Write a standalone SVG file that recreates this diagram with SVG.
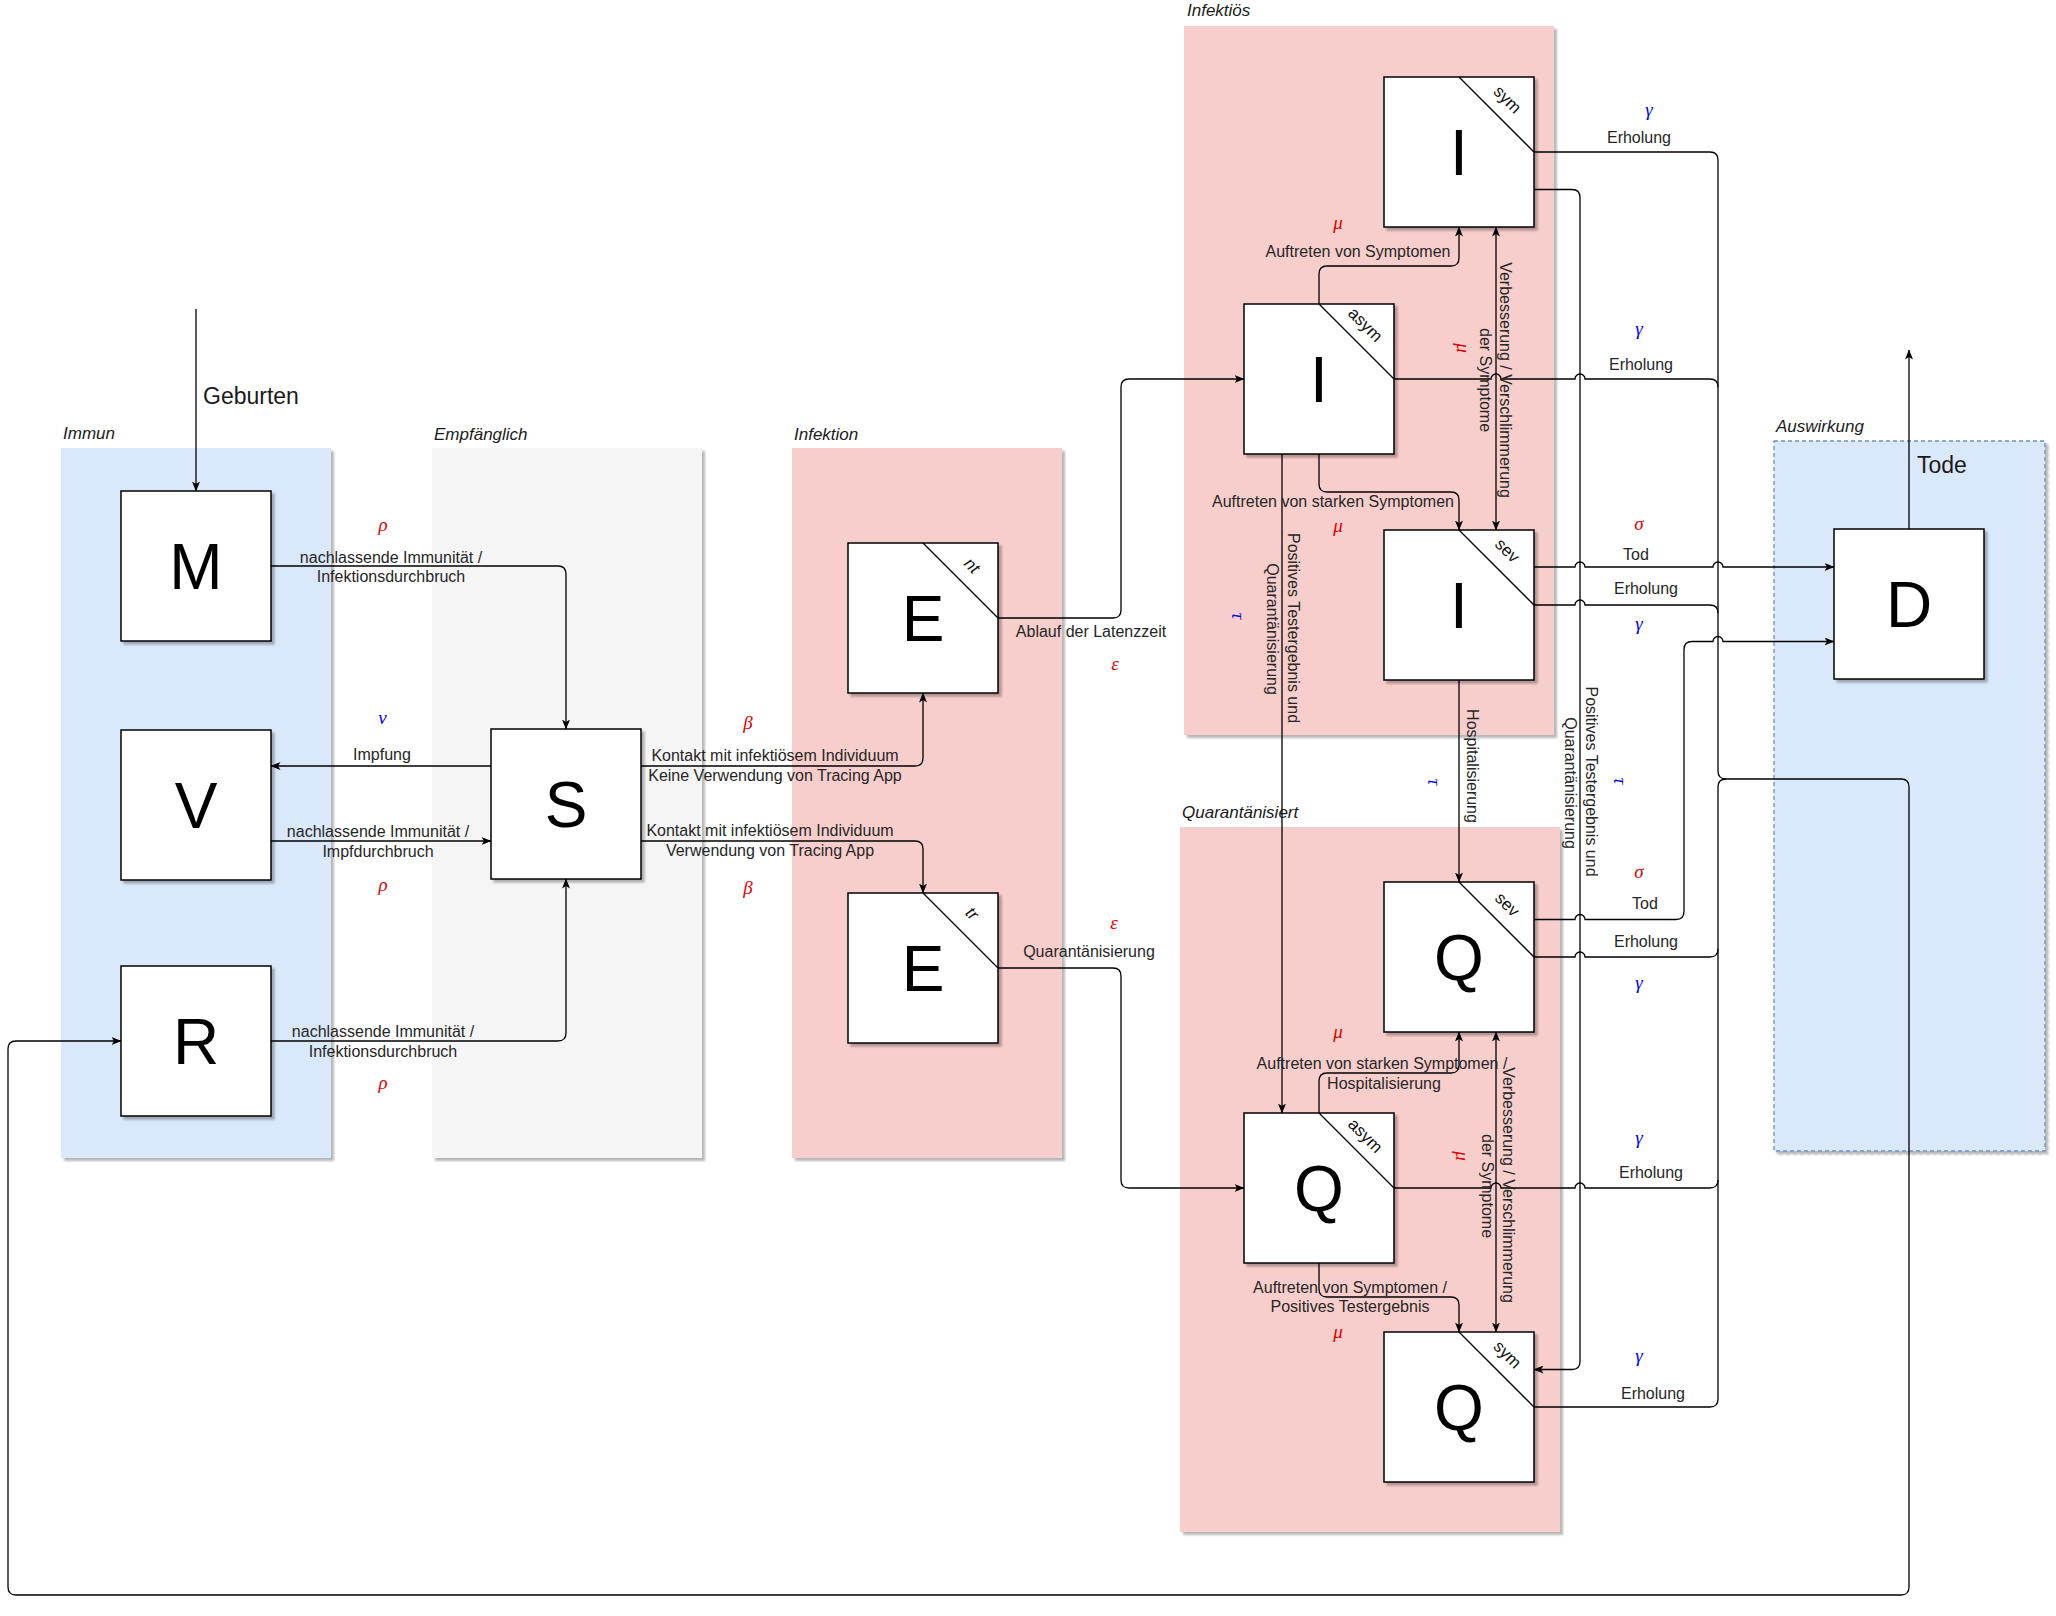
<svg xmlns="http://www.w3.org/2000/svg" width="2056" height="1616" viewBox="0 0 2056 1616">
<defs>
<filter id="sh" x="-5%" y="-5%" width="115%" height="115%">
<feDropShadow dx="3" dy="3" stdDeviation="1.2" flood-color="#000" flood-opacity="0.28"/>
</filter>
<marker id="arr" viewBox="0 0 10 8" refX="9.5" refY="4" markerWidth="10" markerHeight="8" markerUnits="userSpaceOnUse" orient="auto-start-reverse">
<path d="M0,0 L10,4 L0,8 L2.5,4 Z" fill="#000"/>
</marker>
</defs>
<style>
.bg{fill:#fff}
.cont{stroke:none;filter:url(#sh)}
.blue{fill:#dae8fc}
.gray{fill:#f5f5f5}
.red{fill:#f8cecc}
.ausw{fill:#dae8fc;stroke:#6c8ebf;stroke-width:1.3;stroke-dasharray:4 3}
.clab{font-family:"Liberation Sans",Arial,sans-serif;font-style:italic;font-size:17px;fill:#1a1a1a}
.box{fill:#fff;stroke:#000;stroke-width:1.5;filter:url(#sh)}
.diag{stroke:#000;stroke-width:1.3}
.big{font-family:"Liberation Sans",Arial,sans-serif;font-size:64px;fill:#000;text-anchor:middle}
.sub{font-family:"Liberation Sans",Arial,sans-serif;font-size:17px;fill:#111;text-anchor:middle}
.subi{font-family:"Liberation Sans",Arial,sans-serif;font-size:17px;font-style:italic;fill:#111;text-anchor:middle}
.e{fill:none;stroke:#000;stroke-width:1.3}
.ea{fill:none;stroke:#000;stroke-width:1.3;marker-end:url(#arr)}
.eb{fill:none;stroke:#000;stroke-width:1.3;marker-end:url(#arr);marker-start:url(#arr)}
.t{font-family:"Liberation Sans",Arial,sans-serif;font-size:16px;fill:#262626;text-anchor:middle}
.tl{font-family:"Liberation Sans",Arial,sans-serif;font-size:23px;fill:#1a1a1a}
.g{font-family:"Liberation Serif","Times New Roman",serif;font-style:italic;font-size:19px;text-anchor:middle}
.r{fill:#e00000}
.b{fill:#0000ee}
</style>
<rect class="bg" x="0" y="0" width="2056" height="1616"/>

<g id="containers">
<g id="c-immun"><rect class="cont blue" x="61" y="448" width="270" height="710"/><text class="clab" x="63" y="439">Immun</text></g>
<g id="c-empf"><rect class="cont gray" x="432" y="448" width="270" height="710"/><text class="clab" x="434" y="440">Empfänglich</text></g>
<g id="c-infektion"><rect class="cont red" x="792" y="448" width="270" height="710"/><text class="clab" x="794" y="440">Infektion</text></g>
<g id="c-infektioes"><rect class="cont red" x="1184" y="26" width="370" height="709"/><text class="clab" x="1187" y="16">Infektiös</text></g>
<g id="c-quar"><rect class="cont red" x="1180" y="827" width="380" height="705"/><text class="clab" x="1182" y="818">Quarantänisiert</text></g>
<g id="c-ausw"><rect class="ausw" x="1774" y="441" width="271" height="710" filter="url(#sh)"/><text class="clab" x="1776" y="432">Auswirkung</text></g>
</g>

<g id="connectors">
<path class="ea" d="M196,309 V491"/>
<path class="ea" d="M271,566 H558 Q566,566 566,574 V729"/>
<path class="ea" d="M491,766 H271"/>
<path class="ea" d="M271,841 H491"/>
<path class="ea" d="M271,1041 H558 Q566,1041 566,1033 V879"/>
<path class="ea" d="M641,766 H915 Q923,766 923,758 V693"/>
<path class="ea" d="M641,841 H915 Q923,841 923,849 V893"/>
<path class="ea" d="M998,618 H1113 Q1121,618 1121,610 V387 Q1121,379 1129,379 H1244"/>
<path class="ea" d="M998,968 H1113 Q1121,968 1121,976 V1180 Q1121,1188 1129,1188 H1244"/>
<path class="ea" d="M1319,304 V274 Q1319,266 1327,266 H1451 Q1459,266 1459,258 V227"/>
<path class="eb" d="M1496,227 V530"/>
<path class="ea" d="M1319,454 V484 Q1319,492 1327,492 H1451 Q1459,492 1459,500 V530"/>
<path class="ea" d="M1282,454 V1113"/>
<path class="ea" d="M1459,680 V882"/>
<path class="ea" d="M1534,189.5 H1572 Q1580,189.5 1580,197.5 V1361.5 Q1580,1369.5 1572,1369.5 H1534"/>
<path class="ea" d="M1534,152 H1710 Q1718,152 1718,160 V771 Q1718,779 1726,779 H1901 Q1909,779 1909,787 V1587 Q1909,1595 1901,1595 H16 Q8,1595 8,1587 V1049 Q8,1041 16,1041 H121"/>
<path class="e" d="M1394,379 H1491 A5,5 0 0 1 1501,379 H1575 A5,5 0 0 1 1585,379 H1710 Q1718,379 1718,387"/>
<path class="ea" d="M1534,567 H1575 A5,5 0 0 1 1585,567 H1713 A5,5 0 0 1 1723,567 H1834"/>
<path class="e" d="M1534,605 H1575 A5,5 0 0 1 1585,605 H1710 Q1718,605 1718,613"/>
<path class="ea" d="M1534,919.5 H1575 A5,5 0 0 1 1585,919.5 H1676 Q1684,919.5 1684,911.5 V649.5 Q1684,641.5 1692,641.5 H1713 A5,5 0 0 1 1723,641.5 H1834"/>
<path class="e" d="M1534,957 H1575 A5,5 0 0 1 1585,957 H1710 Q1718,957 1718,949"/>
<path class="ea" d="M1319,1113 V1081 Q1319,1073 1327,1073 H1451 Q1459,1073 1459,1065 V1032"/>
<path class="eb" d="M1496,1032 V1332"/>
<path class="e" d="M1394,1188 H1491 A5,5 0 0 1 1501,1188 H1575 A5,5 0 0 1 1585,1188 H1710 Q1718,1188 1718,1180"/>
<path class="ea" d="M1319,1263 V1289 Q1319,1297 1327,1297 H1451 Q1459,1297 1459,1305 V1332"/>
<path class="e" d="M1534,1407 H1710 Q1718,1407 1718,1399 V787 Q1718,779 1726,779"/>
<path class="ea" d="M1909,529 V350"/>
</g>

<g id="edge-labels">
<text class="tl" x="203" y="404">Geburten</text>
<text class="tl" x="1917" y="473">Tode</text>
<text class="t" x="391" y="563">nachlassende Immunität /</text>
<text class="t" x="391" y="582">Infektionsdurchbruch</text>
<text class="t" x="382" y="760">Impfung</text>
<text class="t" x="378" y="837">nachlassende Immunität /</text>
<text class="t" x="378" y="857">Impfdurchbruch</text>
<text class="t" x="383" y="1037">nachlassende Immunität /</text>
<text class="t" x="383" y="1057">Infektionsdurchbruch</text>
<text class="t" x="775" y="761">Kontakt mit infektiösem Individuum</text>
<text class="t" x="775" y="781">Keine Verwendung von Tracing App</text>
<text class="t" x="770" y="836">Kontakt mit infektiösem Individuum</text>
<text class="t" x="770" y="856">Verwendung von Tracing App</text>
<text class="t" x="1091" y="637">Ablauf der Latenzzeit</text>
<text class="t" x="1089" y="957">Quarantänisierung</text>
<text class="t" x="1358" y="257">Auftreten von Symptomen</text>
<text class="t" x="1333" y="507">Auftreten von starken Symptomen</text>
<text class="t" x="1382" y="1069">Auftreten von starken Symptomen /</text>
<text class="t" x="1384" y="1089">Hospitalisierung</text>
<text class="t" x="1350" y="1293">Auftreten von Symptomen /</text>
<text class="t" x="1350" y="1312">Positives Testergebnis</text>
<text class="t" x="1639" y="143">Erholung</text>
<text class="t" x="1641" y="370">Erholung</text>
<text class="t" x="1646" y="594">Erholung</text>
<text class="t" x="1646" y="947">Erholung</text>
<text class="t" x="1651" y="1178">Erholung</text>
<text class="t" x="1653" y="1399">Erholung</text>
<text class="t" x="1636" y="560">Tod</text>
<text class="t" x="1645" y="909">Tod</text>
<g transform="translate(1505.6,380) rotate(90)"><text class="t" x="0" y="5.5">Verbesserung / Verschlimmerung</text></g>
<g transform="translate(1485.7,380) rotate(90)"><text class="t" x="0" y="5.5">der Symptome</text></g>
<g transform="translate(1508.7,1185) rotate(90)"><text class="t" x="0" y="5.5">Verbesserung / Verschlimmerung</text></g>
<g transform="translate(1487.6,1186) rotate(90)"><text class="t" x="0" y="5.5">der Symptome</text></g>
<g transform="translate(1293.6,628) rotate(90)"><text class="t" x="0" y="5.5">Positives Testergebnis und</text></g>
<g transform="translate(1272.6,629) rotate(90)"><text class="t" x="0" y="5.5">Quarantänisierung</text></g>
<g transform="translate(1591,781.5) rotate(90)"><text class="t" x="0" y="5.5">Positives Testergebnis und</text></g>
<g transform="translate(1570,783) rotate(90)"><text class="t" x="0" y="5.5">Quarantänisierung</text></g>
<g transform="translate(1472,766) rotate(90)"><text class="t" x="0" y="5.5">Hospitalisierung</text></g>
<text class="g r" x="383" y="531">ρ</text>
<text class="g b" x="382.5" y="724">ν</text>
<text class="g r" x="383" y="891">ρ</text>
<text class="g r" x="383" y="1089">ρ</text>
<text class="g r" x="748" y="729">β</text>
<text class="g r" x="748" y="894">β</text>
<text class="g r" x="1115" y="670">ε</text>
<text class="g r" x="1114" y="929">ε</text>
<text class="g r" x="1338" y="229">μ</text>
<text class="g r" x="1338" y="532">μ</text>
<text class="g r" x="1338" y="1038">μ</text>
<text class="g r" x="1338" y="1338">μ</text>
<text class="g b" x="1649" y="116">γ</text>
<text class="g b" x="1639" y="335">γ</text>
<text class="g b" x="1639" y="630">γ</text>
<text class="g b" x="1639" y="989">γ</text>
<text class="g b" x="1639" y="1144">γ</text>
<text class="g b" x="1639" y="1362">γ</text>
<text class="g r" x="1639" y="530">σ</text>
<text class="g r" x="1639" y="878">σ</text>
<g transform="translate(1460,348) rotate(90)"><text class="g r" x="0" y="3">μ</text></g>
<g transform="translate(1459,1156) rotate(90)"><text class="g r" x="0" y="3">μ</text></g>
<g transform="translate(1237,616) rotate(90)"><text class="g b" x="0" y="5">τ</text></g>
<g transform="translate(1433,782) rotate(90)"><text class="g b" x="0" y="5">τ</text></g>
<g transform="translate(1618.5,781) rotate(90)"><text class="g b" x="0" y="5">τ</text></g>
</g>

<g id="nodes">
<g id="M"><rect class="box" x="121" y="491" width="150" height="150"/><text class="big" x="196" y="589">M</text></g>
<g id="V"><rect class="box" x="121" y="730" width="150" height="150"/><text class="big" x="196" y="828">V</text></g>
<g id="R"><rect class="box" x="121" y="966" width="150" height="150"/><text class="big" x="196" y="1064">R</text></g>
<g id="S"><rect class="box" x="491" y="729" width="150" height="150"/><text class="big" x="566" y="827">S</text></g>
<g id="E_nt"><rect class="box" x="848" y="543" width="150" height="150"/><line class="diag" x1="923" y1="543" x2="998" y2="618"/><text class="big" x="923" y="641">E</text><g transform="translate(971.6,566) rotate(45)"><text class="subi" x="0" y="5">nt</text></g></g>
<g id="E_tr"><rect class="box" x="848" y="893" width="150" height="150"/><line class="diag" x1="923" y1="893" x2="998" y2="968"/><text class="big" x="923" y="991">E</text><g transform="translate(971.6,914) rotate(45)"><text class="subi" x="0" y="5">tr</text></g></g>
<g id="I_sym"><rect class="box" x="1384" y="77" width="150" height="150"/><line class="diag" x1="1459" y1="77" x2="1534" y2="152"/><text class="big" x="1459" y="175">I</text><g transform="translate(1507,100) rotate(45)"><text class="sub" x="0" y="5">sym</text></g></g>
<g id="I_asym"><rect class="box" x="1244" y="304" width="150" height="150"/><line class="diag" x1="1319" y1="304" x2="1394" y2="379"/><text class="big" x="1319" y="402">I</text><g transform="translate(1365,325) rotate(45)"><text class="sub" x="0" y="5">asym</text></g></g>
<g id="I_sev"><rect class="box" x="1384" y="530" width="150" height="150"/><line class="diag" x1="1459" y1="530" x2="1534" y2="605"/><text class="big" x="1459" y="628">I</text><g transform="translate(1507,551) rotate(45)"><text class="sub" x="0" y="5">sev</text></g></g>
<g id="Q_sev"><rect class="box" x="1384" y="882" width="150" height="150"/><line class="diag" x1="1459" y1="882" x2="1534" y2="957"/><text class="big" x="1459" y="980">Q</text><g transform="translate(1507,905) rotate(45)"><text class="sub" x="0" y="5">sev</text></g></g>
<g id="Q_asym"><rect class="box" x="1244" y="1113" width="150" height="150"/><line class="diag" x1="1319" y1="1113" x2="1394" y2="1188"/><text class="big" x="1319" y="1211">Q</text><g transform="translate(1365,1136) rotate(45)"><text class="sub" x="0" y="5">asym</text></g></g>
<g id="Q_sym"><rect class="box" x="1384" y="1332" width="150" height="150"/><line class="diag" x1="1459" y1="1332" x2="1534" y2="1407"/><text class="big" x="1459" y="1430">Q</text><g transform="translate(1507,1355) rotate(45)"><text class="sub" x="0" y="5">sym</text></g></g>
<g id="D"><rect class="box" x="1834" y="529" width="150" height="150"/><text class="big" x="1909" y="627">D</text></g>
</g>
</svg>
